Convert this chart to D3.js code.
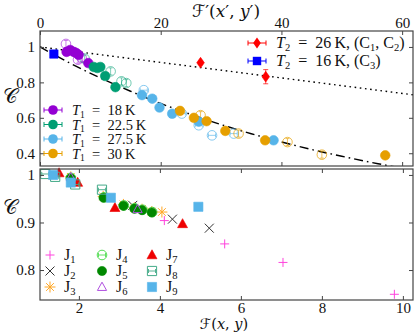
<!DOCTYPE html>
<html>
<head>
<meta charset="utf-8">
<style>
  body { margin: 0; background: #fff; }
  text { font-family: "Liberation Serif", "DejaVu Serif", serif; fill: #111; }
  .tick text { font-size: 15px; }
  .tick line { stroke: #444; }
  .sym { font-family: "DejaVu Serif", "DejaVu Sans", serif; }
</style>
</head>
<body>
<svg width="415" height="332"></svg>
<script src="https://cdnjs.cloudflare.com/ajax/libs/d3/7.8.5/d3.min.js"></script>
<script>
// top panel: C versus F'(x', y')
const t18 = [[4.4, 0.972], [5.0, 0.983], [5.6, 0.972], [6.0, 0.966], [6.4, 0.955], [8.0, 0.909]];
const t18Open = [[4.3, 1.017], [6.3, 0.928], [6.9, 0.938]];
const t225 = [[8.9, 0.887], [9.5, 0.881], [10.0, 0.887], [10.8, 0.836], [12.5, 0.773]];
const t225Open = [[7.4, 0.934], [11.7, 0.862], [13.5, 0.806], [14.3, 0.796]];
const t275 = [[16.9, 0.728], [18.6, 0.708], [19.8, 0.658], [21.9, 0.623], [26.3, 0.578], [38.7, 0.473]];
const t275Open = [[17.2, 0.756], [23.5, 0.624], [26.3, 0.558], [28.5, 0.501], [32.1, 0.511]];
const t30 = [[23.2, 0.639], [25.5, 0.6], [27.6, 0.581], [30.7, 0.526], [37.3, 0.473], [57.2, 0.388]];
const t30Open = [[26.6, 0.615], [32.9, 0.511], [41.0, 0.463], [46.7, 0.392]];
const t26 = [[26.6, 0.911, 0.01], [37.4, 0.832, 0.04]];   // [F', C, error]
const t16 = [[2.3, 0.96, 0]];
const fitDashDot = [[0, 1.0], [5, 0.908], [10, 0.825], [15, 0.75], [20, 0.681], [25, 0.619], [30, 0.562],
  [35, 0.51], [40, 0.464], [45, 0.421], [50, 0.383], [56, 0.341], [62, 0.304]];
const fitDotted = [[0, 1.0], [62, 0.729]];
const t1Labels = ["18", "22.5", "27.5", "30"];
const topXTicks = [0, 20, 40, 60];
const topYTicks = [0.4, 0.6, 0.8, 1];

// bottom panel: C versus F(x, y)
const j1 = [[4.11, 0.904], [5.6, 0.855], [7.04, 0.816], [9.79, 0.749]];
const j2 = [[3.33, 0.936], [4.31, 0.907], [5.22, 0.888]];
const j3 = [[1.8, 0.996], [2.6, 0.955], [3.1, 0.938], [3.37, 0.931], [3.56, 0.928], [3.8, 0.923], [4.05, 0.922]];
const j4 = [[1.8, 0.994], [2.62, 0.953], [3.11, 0.936], [3.38, 0.93], [3.57, 0.927], [3.81, 0.922]];
const j5 = [[1.8, 0.993], [2.61, 0.952], [3.1, 0.935], [3.37, 0.929], [3.56, 0.926], [3.8, 0.921]];
const j6 = [[1.8, 0.995], [3.45, 0.928]];
const j7 = [[1.51, 1.004], [1.97, 0.984], [2.89, 0.931], [4.56, 0.897]];
const j8 = [[1.17, 1.002], [1.415, 0.996], [1.91, 0.98], [2.57, 0.969]];
const j9 = [[1.365, 1.0], [1.8, 0.984], [2.79, 0.952], [4.95, 0.933]];
const botXTicks = [2, 4, 6, 8, 10];
const botYTicks = [0.8, 0.9, 1];

const svg = d3.select("svg");
const L = 40, R = 413;

const xTop = d3.scaleLinear().domain([0, 61.8]).range([L, R]);
const yTop = d3.scaleLinear().domain([0.328, 1.09]).range([166, 31]);
const xBot = d3.scaleLinear().domain([1.04, 10.25]).range([L, R]);
const yBot = d3.scaleLinear().domain([0.737, 1.0125]).range([300, 169]);

function frame(x, y) {
  const [x0, x1] = x.range(), [y1, y0] = y.range();
  svg.append("rect").attr("x", x0).attr("y", y0).attr("width", x1 - x0).attr("height", y1 - y0)
    .attr("fill", "none").attr("stroke", "#444").attr("stroke-width", 1.2);
}

function axes(x, y, xt, yt, labelTop) {
  const [y1, y0] = y.range(), [x0, x1] = x.range();
  const top = svg.append("g").attr("transform", `translate(0,${y0})`)
    .call(d3.axisTop(x).tickValues(xt).tickSizeInner(-4).tickSizeOuter(0).tickPadding(3)
      .tickFormat(labelTop ? d3.format("") : ""));
  const bot = svg.append("g").attr("transform", `translate(0,${y1})`)
    .call(d3.axisBottom(x).tickValues(xt).tickSizeInner(-4).tickSizeOuter(0).tickPadding(2)
      .tickFormat(labelTop ? "" : d3.format("")));
  const left = svg.append("g").attr("transform", `translate(${x0},0)`)
    .call(d3.axisLeft(y).tickValues(yt).tickSizeInner(-4).tickSizeOuter(0).tickPadding(5).tickFormat(d3.format("")));
  const right = svg.append("g").attr("transform", `translate(${x1},0)`)
    .call(d3.axisRight(y).tickValues(yt).tickSizeInner(-4).tickSizeOuter(0).tickFormat(""));
  [top, bot, left, right].forEach(g => {
    g.select(".domain").remove();
    g.selectAll("text").attr("font-family", null).attr("font-size", null);
  });
}

// marker helpers (pixel paths around 0,0)
const shapes = {
  circle: r => d3.symbol(d3.symbolCircle, Math.PI * r * r)(),
  square: r => `M${-r},${-r}H${r}V${r}H${-r}Z`,
  diamond: r => `M0,${-r * 1.2}L${r * 0.85},0L0,${r * 1.2}L${-r * 0.85},0Z`,
  triangle: r => `M0,${-r * 1.05}L${r},${r * 0.75}L${-r},${r * 0.75}Z`,
  plus: r => `M${-r},0H${r}M0,${-r}V${r}`,
  cross: r => `M${-r},${-r}L${r},${r}M${-r},${r}L${r},${-r}`,
  star: r => `M${-r},0H${r}M0,${-r}V${r}M${-r * 0.7},${-r * 0.7}L${r * 0.7},${r * 0.7}M${-r * 0.7},${r * 0.7}L${r * 0.7},${-r * 0.7}`
};

function marks(data, x, y, o) {
  const g = svg.append("g");
  const pts = g.selectAll("g").data(data).join("g")
    .attr("transform", d => `translate(${x(d[0])},${y(d[1])})`);
  if (o.err) {
    pts.filter(d => d[2] > 0).append("path")
      .attr("d", d => {
        const h = Math.abs(y(d[1] + d[2]) - y(d[1]));
        return `M0,${-h}V${h}M-2.5,${-h}H2.5M-2.5,${h}H2.5`;
      })
      .attr("stroke", o.color).attr("stroke-width", 1).attr("opacity", 0.7).attr("fill", "none");
  }
  const line = o.kind === "plus" || o.kind === "cross" || o.kind === "star";
  pts.append("path").attr("d", shapes[o.kind](o.r))
    .attr("fill", line || o.open ? "none" : o.color)
    .attr("stroke", o.color)
    .attr("stroke-width", line ? (o.sw || 1) : (o.open ? 1 : 0.6))
    .attr("opacity", o.alpha || 1);
  if (o.inner === "v") {
    pts.append("path").attr("d", "M0,-3.5V3.5M-2,-3.5H2M-2,3.5H2")
      .attr("stroke", o.color).attr("stroke-width", 0.9).attr("fill", "none").attr("opacity", o.alpha || 1);
  } else if (o.inner === "h") {
    pts.append("path").attr("d", "M-3.5,0H3.5M-3.5,-2V2M3.5,-2V2")
      .attr("stroke", o.color).attr("stroke-width", 0.9).attr("fill", "none").attr("opacity", o.alpha || 1);
  }
  return g;
}

// ---- top panel ----
svg.append("clipPath").attr("id", "clipTop").append("rect")
  .attr("x", L).attr("y", 31).attr("width", R - L).attr("height", 135);

const line = d3.line().x(d => xTop(d[0])).y(d => yTop(d[1])).curve(d3.curveMonotoneX);
svg.append("path").datum(fitDotted).attr("d", line).attr("clip-path", "url(#clipTop)")
  .attr("fill", "none").attr("stroke", "#000").attr("stroke-width", 1.4).attr("stroke-dasharray", "1.6,3.6");
svg.append("path").datum(fitDashDot).attr("d", line).attr("clip-path", "url(#clipTop)")
  .attr("fill", "none").attr("stroke", "#000").attr("stroke-width", 1.4).attr("stroke-dasharray", "9,4,1.6,4");

const cPurple = "#9400d3", cGreen = "#009e73", cBlue = "#56b4e9", cOrange = "#e69f00";
marks(t18Open, xTop, yTop, { kind: "circle", r: 4.8, color: cPurple, open: true, alpha: 0.55, inner: "v" });
marks(t225Open, xTop, yTop, { kind: "circle", r: 4.8, color: cGreen, open: true, alpha: 0.55, inner: "v" });
marks(t275Open, xTop, yTop, { kind: "circle", r: 4.8, color: cBlue, open: true, alpha: 0.7, inner: "h" });
marks(t30Open, xTop, yTop, { kind: "circle", r: 4.8, color: cOrange, open: true, alpha: 0.7, inner: "v" });
marks(t18, xTop, yTop, { kind: "circle", r: 4.8, color: cPurple });
marks(t225, xTop, yTop, { kind: "circle", r: 4.8, color: cGreen });
marks(t275, xTop, yTop, { kind: "circle", r: 4.8, color: cBlue });
marks(t30, xTop, yTop, { kind: "circle", r: 4.8, color: cOrange });
marks(t26, xTop, yTop, { kind: "diamond", r: 4.5, color: "#ff0000", err: true });
marks(t16, xTop, yTop, { kind: "square", r: 4.2, color: "#0000ff", err: true });

frame(xTop, yTop);
axes(xTop, yTop, topXTicks, topYTicks, true);

// legend helpers
const EQ = "\u2002=\u2002";
function legendMarker(cx, cy, kind, color, r) {
  svg.append("path").attr("d", `M${cx - 9},${cy}H${cx + 9}M${cx - 9},${cy - 2.5}V${cy + 2.5}M${cx + 9},${cy - 2.5}V${cy + 2.5}`)
    .attr("stroke", color).attr("stroke-width", 1).attr("fill", "none");
  svg.append("path").attr("d", shapes[kind](r)).attr("transform", `translate(${cx},${cy})`).attr("fill", color);
}
// parts: [text, "i" italic | "s" subscript | ""]
function mathText(x, y, size, parts) {
  const t = svg.append("text").attr("x", x).attr("y", y).attr("font-size", size);
  let down = false;
  parts.forEach(([s, k]) => {
    const sp = t.append("tspan").text(s);
    if (k === "i") sp.attr("font-style", "italic");
    if (k === "s" && !down) { sp.attr("font-size", size * 0.66).attr("dy", 2.5); down = true; }
    else if (k === "s") sp.attr("font-size", size * 0.66);
    else if (down) { sp.attr("dy", -2.5); down = false; }
  });
  return t;
}

const legendRows = [110, 124.5, 139, 153.5];
[cPurple, cGreen, cBlue, cOrange].forEach((c, i) => {
  legendMarker(53, legendRows[i], "circle", c, 4.8);
  mathText(72, legendRows[i] + 5, 14.5, [["T", "i"], ["1", "s"], [`${EQ}${t1Labels[i]}\u2009K`, ""]]);
});

legendMarker(257, 43, "diamond", "#ff0000", 4.5);
mathText(276, 48, 16, [["T", "i"], ["2", "s"], [`${EQ}26\u2009K, (C`, ""], ["1", "s"], [", C", ""], ["2", "s"], [")", ""]]);
legendMarker(257, 61, "square", "#0000ff", 4.2);
mathText(276, 66, 16, [["T", "i"], ["2", "s"], [`${EQ}16\u2009K, (C`, ""], ["3", "s"], [")", ""]]);

// ---- bottom panel ----
const jStyles = [
  { data: j1, kind: "plus", r: 4.5, color: "#ff44dd" },
  { data: j2, kind: "cross", r: 4.5, color: "#333333" },
  { data: j3, kind: "star", r: 5.5, color: "#ffa726" },
  { data: j4, kind: "circle", r: 4.8, color: "#55dd55", open: true, inner: "h" },
  { data: j5, kind: "circle", r: 4.6, color: "#008800" },
  { data: j6, kind: "triangle", r: 4.6, color: "#b050e0", open: true },
  { data: j7, kind: "triangle", r: 5, color: "#ee0000" },
  { data: j8, kind: "square", r: 4.6, color: "#44aa88", open: true, inner: "h" },
  { data: j9, kind: "square", r: 4.6, color: "#56b4e9" }
];
jStyles.forEach(s => marks(s.data, xBot, yBot, s));

frame(xBot, yBot);
axes(xBot, yBot, botXTicks, botYTicks, false);

const jCols = [50, 102, 152], jRows = [255, 271, 287];
jStyles.forEach((s, i) => {
  const cx = jCols[Math.floor(i / 3)], cy = jRows[i % 3];
  const g = svg.append("g").attr("transform", `translate(${cx},${cy})`);
  const line = s.kind === "plus" || s.kind === "cross" || s.kind === "star";
  g.append("path").attr("d", shapes[s.kind](s.r))
    .attr("fill", line || s.open ? "none" : s.color).attr("stroke", s.color)
    .attr("stroke-width", line || s.open ? 1 : 0.6);
  if (s.inner === "h") {
    g.append("path").attr("d", "M-3.5,0H3.5M-3.5,-2V2M3.5,-2V2").attr("stroke", s.color).attr("stroke-width", 0.9);
  }
  mathText(cx + 14, cy + 5, 16, [["J", ""], [String(i + 1), "s"]]);
});

// axis titles
const tTop = svg.append("text").attr("class", "sym").attr("x", 226).attr("y", 17).attr("text-anchor", "middle").attr("font-size", 17);
tTop.append("tspan").text("\u2131\u2032(");
tTop.append("tspan").text("x").attr("font-style", "italic");
tTop.append("tspan").text("\u2032, ");
tTop.append("tspan").text("y").attr("font-style", "italic");
tTop.append("tspan").text("\u2032)");

const tBot = svg.append("text").attr("class", "sym").attr("x", 224).attr("y", 328.5).attr("text-anchor", "middle").attr("font-size", 14.5);
tBot.append("tspan").text("\u2131(");
tBot.append("tspan").text("x").attr("font-style", "italic");
tBot.append("tspan").text(", ");
tBot.append("tspan").text("y").attr("font-style", "italic");
tBot.append("tspan").text(")");

svg.append("text").attr("class", "sym").attr("x", 10).attr("y", 103).attr("text-anchor", "middle")
  .attr("font-size", 20).text("\ud835\udc9e");
svg.append("text").attr("class", "sym").attr("x", 10).attr("y", 214).attr("text-anchor", "middle")
  .attr("font-size", 20).text("\ud835\udc9e");
</script>
</body>
</html>
